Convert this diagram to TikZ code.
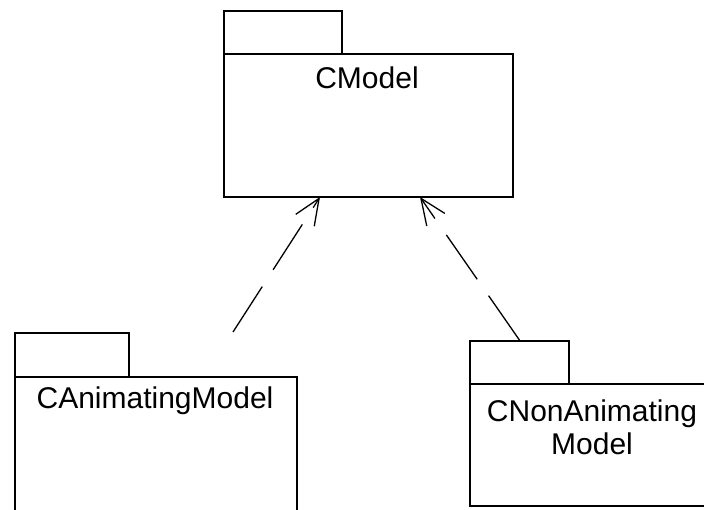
\documentclass[tikz,border=0pt]{standalone}
\usepackage{fontspec}
\setmainfont{Liberation Sans}
\usetikzlibrary{arrows.meta}
\begin{document}
\begin{tikzpicture}[x=1pt,y=-1pt,
  pkgbox/.style={draw, line width=1.8pt, inner sep=0pt, anchor=north west},
  pkgname/.style={inner sep=0pt, align=center, font=\fontsize{30}{33}\selectfont},
  realize/.style={line width=1.3pt, dash pattern=on 54pt off 20pt,
    -{Straight Barb[length=26pt, width=22pt, line width=1.3pt]}}]
\clip (0,0) rectangle (704,510);
\fill[white] (0,0) rectangle (704,510);

% CModel package
\node[pkgbox, minimum width=118pt, minimum height=43pt] (cmtab) at (223,10) {};
\node[pkgbox, minimum width=289pt, minimum height=143pt] (cm) at (223,53) {};
\node[pkgname] (cmname) at (367,78) {CModel};

% CAnimatingModel package
\node[pkgbox, minimum width=114pt, minimum height=44pt] (amtab) at (14,332) {};
\node[pkgbox, minimum width=282pt, minimum height=160pt] (am) at (14,376) {};
\node[pkgname] (amname) at (155,401) {CAnimatingModel};

% CNonAnimatingModel package
\node[pkgbox, minimum width=99pt, minimum height=43pt] (nmtab) at (469,340) {};
\node[pkgbox, minimum width=250pt, minimum height=122pt] (nm) at (469,383) {};
\node[pkgname] (nmname) at (592,427) {CNonAnimating\\Model};

% dependency arrows
\coordinate (amtail) at (233,332);
\coordinate (cmleft) at (320,197);
\coordinate (cmright) at (420,197);
\draw[realize] (amtail) -- (cmleft);
\draw[realize] (nmtab.north) -- (cmright);
\end{tikzpicture}
\end{document}
